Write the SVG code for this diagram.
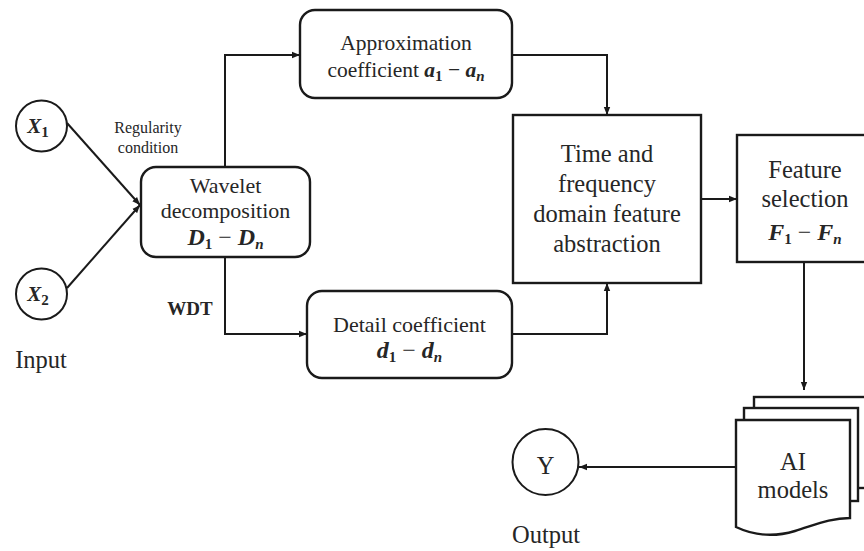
<svg xmlns="http://www.w3.org/2000/svg" width="864" height="551" viewBox="0 0 864 551">
  <defs>
    <marker id="ah" viewBox="0 0 10 10" refX="10" refY="5" markerWidth="8" markerHeight="8" markerUnits="userSpaceOnUse" orient="auto">
      <path d="M0,1 L10,5 L0,9 Z" fill="#1a1a1a"/>
    </marker>
    <style>
      text { font-family: "Liberation Serif", "Times New Roman", serif; fill: #262626; text-anchor: middle; }
      .box { fill: #ffffff; stroke: #1a1a1a; stroke-width: 2.4; }
      .node { fill: #ffffff; stroke: #1a1a1a; stroke-width: 2; }
      .wire { fill: none; stroke: #1a1a1a; stroke-width: 2; marker-end: url(#ah); }
      .s22 { font-size: 22px; }
      .s24 { font-size: 24.5px; }
      .mv { font-weight: bold; font-style: italic; }
      .sub { font-weight: bold; font-size: 15px; }
      .subi { font-weight: bold; font-style: italic; font-size: 15px; }
    </style>
  </defs>

  <!-- connectors -->
  <g id="connectors">
    <path class="wire" d="M67,123 L140,205"/>
    <path class="wire" d="M67,288 L140,205"/>
    <path class="wire" d="M225,167 V55 H300"/>
    <path class="wire" d="M225,257 V334 H307"/>
    <path class="wire" d="M512,55 H607 V115"/>
    <path class="wire" d="M512,334 H607 V283"/>
    <path class="wire" d="M701,199 H737"/>
    <path class="wire" d="M804,262 V390"/>
    <path class="wire" d="M736,467 H579"/>
  </g>

  <!-- inputs -->
  <g id="x1">
    <circle class="node" cx="41.5" cy="126" r="25.5"/>
    <text x="38" y="133" font-size="21"><tspan class="mv">X</tspan><tspan class="sub" dy="4">1</tspan></text>
  </g>
  <g id="x2">
    <circle class="node" cx="41.5" cy="294" r="25.5"/>
    <text x="38" y="301" font-size="21"><tspan class="mv">X</tspan><tspan class="sub" dy="4">2</tspan></text>
  </g>
  <text x="41" y="368" class="s24">Input</text>
  <text x="148" y="133" font-size="16">Regularity</text>
  <text x="148" y="153" font-size="16">condition</text>
  <text x="190" y="315" font-size="19" font-weight="bold">WDT</text>

  <!-- wavelet decomposition -->
  <g id="wavelet">
    <rect class="box" x="141" y="167" width="169" height="90" rx="15"/>
    <text x="225.5" y="193" class="s22">Wavelet</text>
    <text x="225.5" y="218" class="s22">decomposition</text>
    <text x="225.5" y="245" font-size="24"><tspan class="mv">D</tspan><tspan class="sub" dy="4">1</tspan><tspan dy="-4"> − </tspan><tspan class="mv">D</tspan><tspan class="subi" dy="4">n</tspan></text>
  </g>

  <!-- approximation coefficients -->
  <g id="approx">
    <rect class="box" x="300" y="10" width="212" height="88" rx="15"/>
    <text x="406" y="50" font-size="21.5">Approximation</text>
    <text x="406" y="77" font-size="21.5">coefficient <tspan class="mv">a</tspan><tspan class="sub" dy="4">1</tspan><tspan dy="-4"> − </tspan><tspan class="mv">a</tspan><tspan class="subi" dy="4">n</tspan></text>
  </g>

  <!-- detail coefficients -->
  <g id="detail">
    <rect class="box" x="307" y="291" width="205" height="87" rx="15"/>
    <text x="409.5" y="332" class="s22">Detail coefficient</text>
    <text x="409.5" y="358" font-size="24"><tspan class="mv">d</tspan><tspan class="sub" dy="4">1</tspan><tspan dy="-4"> − </tspan><tspan class="mv">d</tspan><tspan class="subi" dy="4">n</tspan></text>
  </g>

  <!-- feature abstraction -->
  <g id="abstraction">
    <rect class="box" x="513" y="115" width="188" height="168"/>
    <text x="607" y="162" class="s24">Time and</text>
    <text x="607" y="192" class="s24">frequency</text>
    <text x="607" y="222" class="s24">domain feature</text>
    <text x="607" y="252" class="s24">abstraction</text>
  </g>

  <!-- feature selection -->
  <g id="selection">
    <rect class="box" x="737" y="135" width="140" height="127"/>
    <text x="805" y="178" class="s24">Feature</text>
    <text x="805" y="207" class="s24">selection</text>
    <text x="805" y="240" font-size="24"><tspan class="mv">F</tspan><tspan class="sub" dy="4">1</tspan><tspan dy="-4"> − </tspan><tspan class="mv">F</tspan><tspan class="subi" dy="4">n</tspan></text>
  </g>

  <!-- model stack -->
  <g id="models">
    <rect class="box" x="754" y="397" width="130" height="91"/>
    <rect class="box" x="744" y="408" width="114" height="93"/>
    <path class="box" d="M736,420 H850 V518 C830,518 815,525 795,531 C775,537 755,536 736,527 Z"/>
    <text x="793" y="470" class="s24">AI</text>
    <text x="793" y="498" class="s24">models</text>
  </g>

  <!-- output -->
  <g id="output">
    <circle class="node" cx="545.5" cy="462" r="33"/>
    <text x="545.5" y="474" class="s24">Y</text>
  </g>
  <text x="546" y="543" class="s24">Output</text>
</svg>
